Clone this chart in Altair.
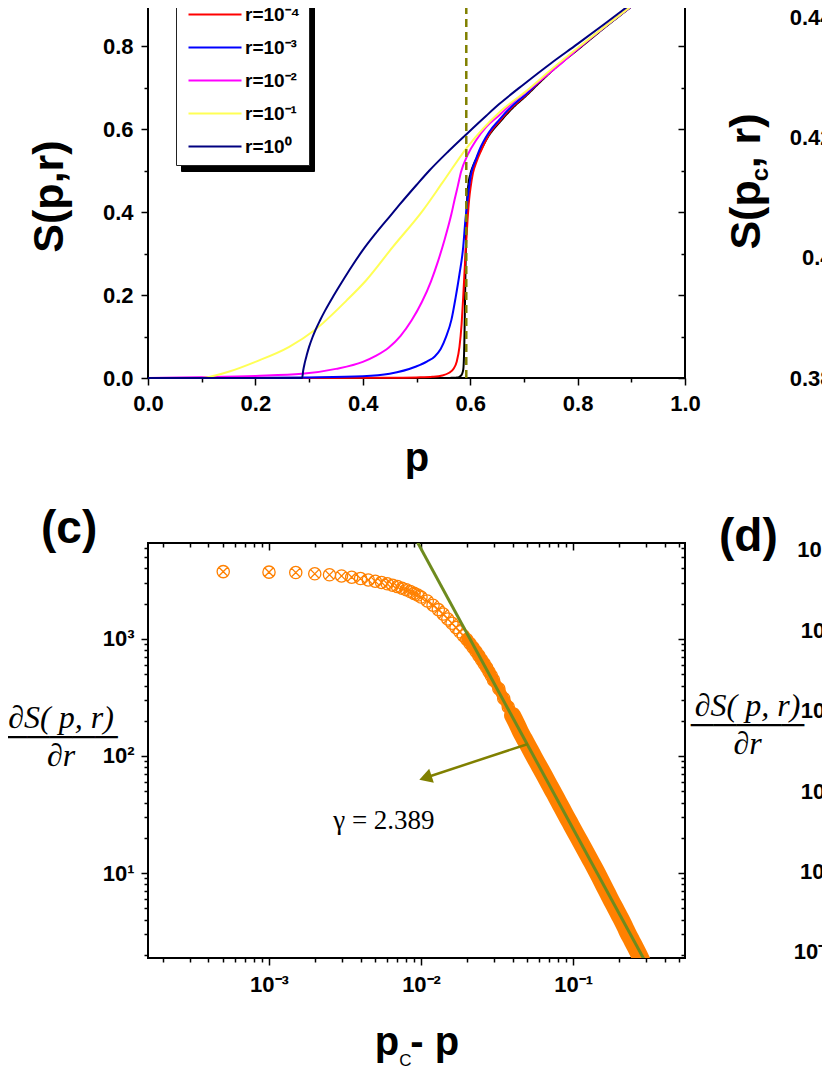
import altair as alt
import pandas as pd

FONT = "Liberation Sans"
SERIF = "Liberation Serif, DejaVu Serif, DejaVu Sans"

# ---------------- panel (a): S(p, r) vs p ----------------
r_labels = ["r=10⁻⁵", "r=10⁻⁴", "r=10⁻³", "r=10⁻²", "r=10⁻¹", "r=10⁰"]
r_colors = ["#000000", "#FF0000", "#0000FF", "#FF00FF", "#FFFF55", "#000080"]

p_r5 = [0.0, 0.55, 0.575, 0.583, 0.587, 0.589, 0.5905, 0.592, 0.594, 0.597, 0.600, 0.605, 0.612,
        0.620, 0.635, 0.654, 0.680, 0.704, 0.730, 0.760, 0.800, 0.850, 0.900, 0.950, 1.0]
s_r5 = [0.0, 0.0, 0.001, 0.006, 0.02, 0.08, 0.20, 0.32, 0.42, 0.47, 0.49, 0.51, 0.53,
        0.55, 0.585, 0.615, 0.652, 0.68, 0.713, 0.749, 0.791, 0.844, 0.895, 0.945, 0.995]

p_r4 = [0.0, 0.45, 0.50, 0.53, 0.548, 0.560, 0.569, 0.575, 0.580, 0.584, 0.587, 0.590, 0.592, 0.595,
        0.598, 0.601, 0.605, 0.612, 0.620, 0.635, 0.654, 0.680, 0.704, 0.730, 0.760, 0.800, 0.850,
        0.900, 0.950, 1.0]
s_r4 = [0.0, 0.0005, 0.0015, 0.003, 0.006, 0.012, 0.022, 0.040, 0.075, 0.130, 0.195, 0.270, 0.316,
        0.380, 0.430, 0.462, 0.493, 0.522, 0.547, 0.587, 0.618, 0.655, 0.682, 0.715, 0.750, 0.792,
        0.845, 0.895, 0.945, 0.995]

p_r3 = [0.0, 0.20, 0.30, 0.40, 0.45, 0.498, 0.520, 0.534, 0.545, 0.555, 0.565, 0.573, 0.580, 0.587,
        0.591, 0.595, 0.602, 0.610, 0.617, 0.635, 0.654, 0.680, 0.704, 0.730, 0.760, 0.800, 0.850,
        0.900, 0.950, 1.0]
s_r3 = [0.0, 0.0005, 0.0015, 0.004, 0.010, 0.027, 0.040, 0.052, 0.070, 0.099, 0.140, 0.195, 0.250,
        0.316, 0.380, 0.429, 0.494, 0.525, 0.549, 0.592, 0.622, 0.658, 0.684, 0.716, 0.751, 0.793,
        0.845, 0.895, 0.945, 0.995]

p_r2 = [0.0, 0.10, 0.20, 0.287, 0.35, 0.40, 0.425, 0.448, 0.470, 0.491, 0.510, 0.527, 0.540, 0.552,
        0.565, 0.571, 0.577, 0.583, 0.595, 0.611, 0.630, 0.654, 0.680, 0.704, 0.735, 0.766, 0.800,
        0.850, 0.900, 0.950, 1.0]
s_r2 = [0.0, 0.002, 0.005, 0.010, 0.022, 0.039, 0.054, 0.073, 0.101, 0.139, 0.183, 0.233, 0.281,
        0.332, 0.395, 0.430, 0.463, 0.497, 0.537, 0.573, 0.605, 0.633, 0.665, 0.689, 0.722, 0.754,
        0.793, 0.846, 0.896, 0.946, 0.996]

p_r1 = [0.0, 0.10, 0.125, 0.15, 0.20, 0.263, 0.31, 0.37, 0.406, 0.456, 0.512, 0.548, 0.595, 0.654,
        0.704, 0.750, 0.800, 0.850, 0.900, 0.950, 1.0]
s_r1 = [0.0, 0.0, 0.006, 0.015, 0.039, 0.075, 0.115, 0.187, 0.235, 0.316, 0.404, 0.470, 0.557, 0.640,
        0.691, 0.742, 0.795, 0.846, 0.896, 0.946, 0.996]

p_r0 = [0.0, 0.287, 0.289, 0.292, 0.296, 0.300, 0.306, 0.312, 0.320, 0.330, 0.345, 0.360, 0.380,
        0.400, 0.425, 0.450, 0.468, 0.500, 0.524, 0.560, 0.595, 0.630, 0.654, 0.700, 0.750, 0.800,
        0.850, 0.900, 0.950, 1.0]
s_r0 = [0.0, 0.0, 0.018, 0.037, 0.057, 0.075, 0.097, 0.116, 0.138, 0.163, 0.197, 0.229, 0.270,
        0.308, 0.350, 0.389, 0.417, 0.465, 0.500, 0.547, 0.590, 0.632, 0.660, 0.708, 0.758, 0.805,
        0.853, 0.902, 0.951, 1.0]

pc_p = [0.5927, 0.5927]
pc_s = [0.0, 1.0]

a_dom = [0.0, 1.0]
a_major = [0.0, 0.2, 0.4, 0.6, 0.8, 1.0]
a_minor = [0.1, 0.3, 0.5, 0.7, 0.9]

# ---------------- panel (b): only its left axis is in view ----------------
b_dom = [0.38, 0.449]
b_major = [0.38, 0.40, 0.42, 0.44]

# ---------------- panel (c): dS/dr vs pc - p ----------------
c_x = [0.0005, 0.001, 0.0015, 0.002, 0.0025, 0.003, 0.0035, 0.004, 0.0045, 0.005,
       0.0055, 0.006, 0.0065, 0.007, 0.0075, 0.008, 0.0085, 0.009, 0.0095, 0.010,
       0.011, 0.012, 0.013, 0.014, 0.015, 0.016, 0.017, 0.018, 0.019, 0.020,
       0.021, 0.022, 0.023, 0.024, 0.025, 0.026, 0.027, 0.028, 0.029, 0.030,
       0.0325, 0.035, 0.0375, 0.040, 0.0425, 0.045, 0.0475, 0.050,
       0.055, 0.060, 0.065, 0.070, 0.075, 0.080, 0.085, 0.090, 0.095, 0.10,
       0.11, 0.12, 0.13, 0.14, 0.15, 0.16, 0.17, 0.18, 0.19, 0.20,
       0.21, 0.22, 0.23, 0.24, 0.25, 0.26, 0.27, 0.28, 0.29, 0.30]
c_y = [3760, 3720, 3690, 3600, 3530, 3450, 3370, 3280, 3190, 3110,
       3040, 2960, 2880, 2800, 2710, 2630, 2540, 2450, 2370, 2280,
       2110, 1940, 1780, 1630, 1480, 1360, 1250, 1150, 1065, 990,
       915, 845, 780, 720, 665, 615, 570, 525, 485, 445,
       375, 310, 262, 222, 190, 162, 142, 126,
       100, 81.5, 67.5, 56.4, 48, 41, 35.5, 30.9, 27.2, 24.0,
       19.2, 15.6, 12.9, 10.8, 9.1, 7.7, 6.6, 5.7, 5.0, 4.4,
       3.9, 3.45, 3.05, 2.75, 2.48, 2.25, 2.04, 1.85, 1.68, 1.53]

fit_x = [0.0095, 0.31]
fit_y = [6650, 1.6]
arrow_x = [0.0505, 0.01069]
arrow_y = [126.7, 65.2]
head_x = [0.01069]
head_y = [65.2]
gamma_x = [0.0057]
gamma_y = [23.8]
gamma_txt = ["γ = 2.389"]

c_xdom = [1.6e-4, 0.545]
c_ydom = [1.88, 6600]
c_xmajor = [1e-3, 1e-2, 1e-1]
c_xminor = [2e-4, 3e-4, 4e-4, 5e-4, 6e-4, 7e-4, 8e-4, 9e-4,
            2e-3, 3e-3, 4e-3, 5e-3, 6e-3, 7e-3, 8e-3, 9e-3,
            2e-2, 3e-2, 4e-2, 5e-2, 6e-2, 7e-2, 8e-2, 9e-2,
            0.2, 0.3, 0.4, 0.5]
c_ymajor = [10, 100, 1000]
c_yminor = [2, 3, 4, 5, 6, 7, 8, 9, 20, 30, 40, 50, 60, 70, 80, 90,
            200, 300, 400, 500, 600, 700, 800, 900, 2000, 3000, 4000, 5000, 6000]

# ---------------- panel (d): only its left axis is in view ----------------
d_dom = [0.084, 12200]
d_major = [0.1, 1, 10, 100, 1000, 10000]

SUP = {-3: "⁻³", -2: "⁻²", -1: "⁻¹", 0: "⁰", 1: "¹", 2: "²", 3: "³", 4: "⁴"}


def pow_expr(exps):
    e = "round(log(datum.value)/LN10)"
    out = "''"
    for k in reversed(exps):
        out = f"{e} == {k} ? '10{SUP[k]}' : ({out})"
    return out


def ax(orient, values, size=7, offset=0, labels=False, **kw):
    base = dict(orient=orient, values=values, domain=False, grid=False, ticks=True,
                tickSize=size, tickWidth=1.5, tickColor="black", labels=labels,
                offset=offset, title=None)
    if labels:
        base.update(labelFont=FONT, labelFontSize=22, labelFontWeight="bold",
                    labelColor="black", labelPadding=8, labelFlush=False, labelOverlap=False)
    base.update(kw)
    return alt.Axis(**base)


def carriers(df, xs, ys, pairs):
    out = []
    for xa, ya in pairs:
        out.append(alt.Chart(df).mark_point(opacity=0).encode(
            x=alt.X("x:Q", scale=xs, axis=xa), y=alt.Y("y:Q", scale=ys, axis=ya)))
    return out


# ---------------- build (a) ----------------
xs_a = alt.Scale(domain=a_dom, nice=False, zero=False)
ys_a = alt.Scale(domain=a_dom, nice=False, zero=False)
col_scale = alt.Scale(domain=r_labels, range=r_colors)

leg_common = dict(orient="none", title=None, symbolType="M-1,0H9.6", symbolSize=100,
                  symbolStrokeWidth=2, labelFont=FONT, labelFontSize=19, labelFontWeight="bold",
                  labelOffset=42, rowPadding=13, padding=8, symbolLimit=0, labelLimit=0,
                  cornerRadius=0)
main_leg = alt.Legend(legendX=28, legendY=1, fillColor="white", strokeColor="#222222",
                      labelColor="black", zindex=2, **leg_common)
# the drop shadow of the boxed legend: a second, all-black legend (reversed domain so it is not merged)
shadow_leg = alt.Legend(legendX=33, legendY=7, fillColor="black", strokeColor="black",
                        labelColor="black", symbolStrokeColor="black", zindex=1, **leg_common)

curves = [(p_r5, s_r5, r_labels[0]), (p_r4, s_r4, r_labels[1]), (p_r3, s_r3, r_labels[2]),
          (p_r2, s_r2, r_labels[3]), (p_r1, s_r1, r_labels[4]), (p_r0, s_r0, r_labels[5])]
a_layers = []
for i, (pp, ss, lab) in enumerate(curves):
    df = pd.DataFrame({"p": pp, "S": ss, "r": lab, "r2": lab})
    enc = dict(x=alt.X("p:Q", scale=xs_a, axis=None),
               y=alt.Y("S:Q", scale=ys_a, axis=None),
               color=alt.Color("r:N", scale=col_scale, legend=main_leg))
    if i == 0:
        enc["strokeDash"] = alt.StrokeDash(
            "r2:N", scale=alt.Scale(domain=r_labels[::-1], range=[[1, 0]] * 6), legend=shadow_leg)
    a_layers.append(alt.Chart(df).mark_line(strokeWidth=2, interpolate="monotone").encode(**enc))

pc_df = pd.DataFrame({"p": pc_p, "S": pc_s})
a_layers.append(alt.Chart(pc_df).mark_line(color="#808000", strokeWidth=2.5, strokeDash=[8, 5]).encode(
    x=alt.X("p:Q", scale=xs_a, axis=None), y=alt.Y("S:Q", scale=ys_a, axis=None)))

a_car = pd.DataFrame({"x": a_dom, "y": a_dom})
a_layers += carriers(a_car, xs_a, ys_a, [
    (ax("bottom", a_major, labels=True, format=".1f", title="p", titleFont=FONT, titleFontSize=40,
        titleFontWeight="bold", titleColor="black", titleX=268.5, titleY=92,
        titleBaseline="alphabetic", titleAlign="center"),
     ax("left", a_major, labels=True, format=".1f", title="S(p,r)", titleFont=FONT, titleFontSize=43,
        titleFontWeight="bold", titleColor="black", titleAngle=270, titleX=-86, titleY=233,
        titleBaseline="alphabetic", titleAlign="center")),
    (ax("bottom", a_minor, size=4), ax("left", a_minor, size=4)),
    (ax("top", a_major, offset=-7), ax("right", a_major, offset=-7)),
    (ax("top", a_minor, size=4, offset=-4), ax("right", a_minor, size=4, offset=-4)),
])
panel_a = alt.layer(*a_layers).resolve_axis(x="independent", y="independent").properties(
    width=537, height=415)

# ---------------- build (b) ----------------
xs_b = alt.Scale(domain=[0, 1], nice=False, zero=False)
ys_b = alt.Scale(domain=b_dom, nice=False, zero=False)
b_df = pd.DataFrame({"x": [0, 1], "y": b_dom})
b_main = alt.Chart(b_df).mark_point(opacity=0).encode(
    x=alt.X("x:Q", scale=xs_b, axis=None),
    y=alt.Y("y:Q", scale=ys_b, axis=ax(
        "left", b_major, labels=True, labelExpr="format(datum.value, '.2~f')", title="S(p   , r)",
        titleFont=FONT, titleFontSize=43, titleFontWeight="bold", titleColor="black", titleAngle=270,
        titleX=-88, titleY=218, titleBaseline="alphabetic", titleAlign="center")))
b_sub = alt.Chart(b_df).mark_point(opacity=0).encode(
    x=alt.X("x:Q", scale=xs_b, axis=None),
    y=alt.Y("y:Q", scale=ys_b, axis=alt.Axis(
        orient="left", domain=False, ticks=False, labels=False, grid=False, title="c", titleFont=FONT,
        titleFontSize=24, titleFontWeight="bold", titleColor="black", titleAngle=270, titleX=-80,
        titleY=211, titleBaseline="alphabetic", titleAlign="center")))
panel_b = alt.layer(b_main, b_sub).resolve_axis(y="independent").properties(width=40, height=415)

# ---------------- build (c) ----------------
xs_c = alt.Scale(type="log", domain=c_xdom, nice=False)
ys_c = alt.Scale(type="log", domain=c_ydom, nice=False)
ORANGE = "#FF8000"
OTIMES = "M-1,0A1,1,0,1,0,1,0A1,1,0,1,0,-1,0Z M-0.72,-0.72L0.72,0.72 M-0.72,0.72L0.72,-0.72"

c_df = pd.DataFrame({"x": c_x, "y": c_y})
cx_enc = alt.X("x:Q", scale=xs_c, axis=None)
cy_enc = alt.Y("y:Q", scale=ys_c, axis=None)
c_layers = [
    alt.Chart(c_df).transform_filter("datum.x >= 0.02").mark_line(
        color=ORANGE, strokeWidth=11, strokeCap="round", interpolate="monotone", clip=True).encode(
        x=cx_enc, y=cy_enc),
    alt.Chart(c_df).transform_filter("datum.x >= 0.04").mark_line(
        color=ORANGE, strokeWidth=17, strokeCap="round", interpolate="monotone", clip=True).encode(
        x=cx_enc, y=cy_enc),
    alt.Chart(c_df).mark_point(shape=OTIMES, size=150, filled=False, stroke=ORANGE, strokeWidth=1.3,
                               opacity=1, clip=True).encode(x=cx_enc, y=cy_enc),
    alt.Chart(pd.DataFrame({"x": fit_x, "y": fit_y})).mark_line(
        color="#6E8B1E", strokeWidth=3, clip=True).encode(x=cx_enc, y=cy_enc),
    alt.Chart(pd.DataFrame({"x": arrow_x, "y": arrow_y})).mark_line(
        color="#808000", strokeWidth=2.5).encode(x=cx_enc, y=cy_enc),
    alt.Chart(pd.DataFrame({"x": head_x, "y": head_y})).mark_point(
        shape="triangle-left", filled=True, size=220, angle=341.8, color="#808000", opacity=1).encode(
        x=cx_enc, y=cy_enc),
    alt.Chart(pd.DataFrame({"x": gamma_x, "y": gamma_y, "t": gamma_txt})).mark_text(
        font="Liberation Serif", fontSize=27, align="center", baseline="alphabetic", color="black").encode(
        x=cx_enc, y=cy_enc, text="t:N"),
]
c_car = pd.DataFrame({"x": c_xdom, "y": c_ydom})
frac = ["∂S( p, r)", "─────", "∂r"]
c_layers += carriers(c_car, xs_c, ys_c, [
    (ax("bottom", c_xmajor, labels=True, labelExpr=pow_expr([-3, -2, -1]), labelPadding=9,
        title="p  - p", titleFont=FONT, titleFontSize=40, titleFontWeight="bold", titleColor="black",
        titleX=268.5, titleY=96, titleBaseline="alphabetic", titleAlign="center"),
     ax("left", c_ymajor, labels=True, labelExpr=pow_expr([1, 2, 3]), labelPadding=7,
        title=frac, titleFont=SERIF, titleFontSize=32, titleFontStyle="italic",
        titleFontWeight="normal", titleColor="black", titleAngle=0, titleLineHeight=19,
        titleX=-87.5, titleY=184, titleBaseline="alphabetic", titleAlign="center")),
    (ax("bottom", c_xminor, size=4, title="C", titleFont=FONT, titleFontSize=17,
        titleFontWeight="normal", titleColor="black", titleX=257, titleY=107,
        titleBaseline="alphabetic", titleAlign="center"),
     ax("left", c_yminor, size=4)),
    (ax("top", c_xmajor, offset=-7), ax("right", c_ymajor, offset=-7)),
    (ax("top", c_xminor, size=4, offset=-4), ax("right", c_yminor, size=4, offset=-4)),
])
panel_c = alt.layer(*c_layers).resolve_axis(x="independent", y="independent").properties(
    width=537, height=415,
    title=alt.TitleParams(text="(c)", anchor="start", frame="group", dx=-107, offset=0, dy=49,
                          baseline="alphabetic", font=FONT, fontSize=46, fontWeight="bold",
                          color="black"))

# ---------------- build (d) ----------------
ys_d = alt.Scale(type="log", domain=d_dom, nice=False)
d_df = pd.DataFrame({"x": [0, 1], "y": d_dom})
panel_d = alt.Chart(d_df).mark_point(opacity=0).encode(
    x=alt.X("x:Q", scale=xs_b, axis=None),
    y=alt.Y("y:Q", scale=ys_d, axis=ax(
        "left", d_major, labels=True, labelExpr=pow_expr([-1, 0, 1, 2, 3, 4]), title=frac,
        titleFont=SERIF, titleFontSize=32, titleFontStyle="italic", titleFontWeight="normal",
        titleColor="black", titleAngle=0, titleLineHeight=19, titleX=-100, titleY=172,
        titleBaseline="alphabetic", titleAlign="center"))).properties(
    width=40, height=415,
    title=alt.TitleParams(text="(d)", anchor="start", frame="group", dx=-128, offset=0, dy=58,
                          baseline="alphabetic", font=FONT, fontSize=46, fontWeight="bold",
                          color="black"))

chart = alt.concat(panel_a, panel_b, panel_c, panel_d, columns=2,
                   spacing={"row": 165, "column": 162}, bounds="flush").properties(
    padding={"left": -6, "top": -57, "right": -69, "bottom": -1},
    background="white").configure_view(stroke="black", strokeWidth=2)

chart.save("out.html", embed_options={"renderer": "svg", "actions": False})
